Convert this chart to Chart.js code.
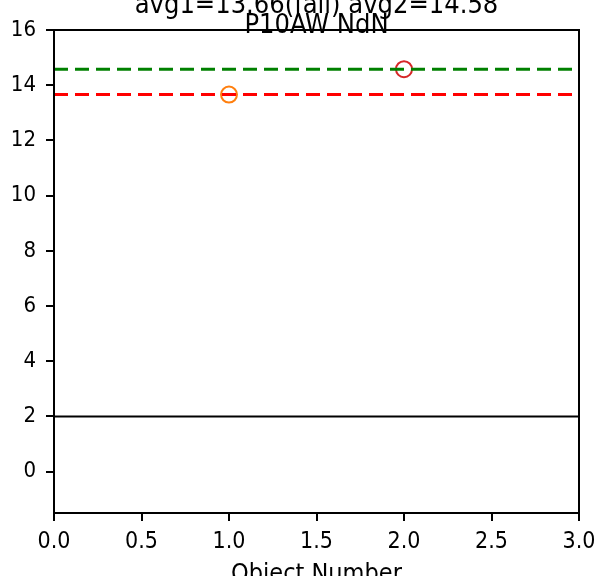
<!DOCTYPE html>
<html>
<head>
<meta charset="utf-8">
<script src="https://cdn.jsdelivr.net/npm/chart.js@4"></script>
<style>
  html, body { margin: 0; padding: 0; background: #fff; }
  #wrap { width: 613px; height: 576px; }
</style>
</head>
<body>
<div id="wrap"><canvas id="chart" width="613" height="576"></canvas></div>
<script>
// --- dados do gráfico ---
const objectNumbers = [1, 2];
const objectValues = [13.66, 14.58];
const pointColors = ['#ff7f0e', '#d62728'];
const avg1 = 13.66;
const avg2 = 14.58;
const limitLine = 2;
const xTicks = [0, 0.5, 1, 1.5, 2, 2.5, 3];
const yTicks = [0, 2, 4, 6, 8, 10, 12, 14, 16];
const titleTop = 'avg1=13.66(fail) avg2=14.58';
const titleMain = 'P10AW NdN';
const xLabel = 'Object Number';

const FONT = '"DejaVu Sans Condensed", "DejaVu Sans", sans-serif';

// textos e moldura desenhados à mão (títulos sobrepostos como no original)
const textPlugin = {
    id: 'textPlugin',
    afterDraw(chart) {
        const { ctx, chartArea } = chart;
        ctx.save();
        ctx.strokeStyle = '#000';
        ctx.lineWidth = 2;
        ctx.strokeRect(chartArea.left, chartArea.top, chartArea.right - chartArea.left, chartArea.bottom - chartArea.top);
        ctx.fillStyle = '#000';
        ctx.textAlign = 'center';
        ctx.textBaseline = 'alphabetic';
        const cx = (chartArea.left + chartArea.right) / 2;
        ctx.font = '27px ' + FONT;
        ctx.fillText(titleTop, cx, 13);
        ctx.fillText(titleMain, cx, 33);
        ctx.font = '25px ' + FONT;
        ctx.fillText(xLabel, cx, 581);
        ctx.restore();
    }
};

const hLine = (y, color, dash, width) => ({
    type: 'line',
    data: [{ x: 0, y: y }, { x: 3, y: y }],
    borderColor: color,
    borderWidth: width,
    borderDash: dash,
    pointRadius: 0,
    fill: false
});

new Chart(document.getElementById('chart'), {
    type: 'scatter',
    data: {
        datasets: [
            hLine(limitLine, '#000000', [], 2),
            hLine(avg1, '#ff0000', [14, 7], 3),
            hLine(avg2, '#008000', [14, 7], 3),
            {
                type: 'scatter',
                data: objectNumbers.map((x, i) => ({ x: x, y: objectValues[i] })),
                pointRadius: 8,
                pointBorderWidth: 2,
                pointBackgroundColor: 'rgba(0,0,0,0)',
                pointBorderColor: pointColors,
                pointHoverRadius: 8
            }
        ]
    },
    options: {
        responsive: false,
        animation: false,
        layout: { padding: { left: 0, top: 30, right: 34, bottom: 0 } },
        plugins: { legend: { display: false }, tooltip: { enabled: false } },
        scales: {
            x: {
                type: 'linear',
                min: 0,
                max: 3,
                afterBuildTicks: s => { s.ticks = xTicks.map(v => ({ value: v })); },
                afterFit: s => { s.height = 63; },
                grid: { drawOnChartArea: false, drawTicks: true, tickLength: 8, color: '#000', lineWidth: 2 },
                border: { display: true, color: '#000', width: 2 },
                ticks: {
                    color: '#000',
                    font: { family: FONT, size: 23 },
                    padding: 7,
                    maxRotation: 0,
                    callback: v => v.toFixed(1)
                }
            },
            y: {
                type: 'linear',
                min: -1.5,
                max: 16,
                afterBuildTicks: s => { s.ticks = yTicks.map(v => ({ value: v })); },
                afterFit: s => { s.width = 54; },
                grid: { drawOnChartArea: false, drawTicks: true, tickLength: 8, color: '#000', lineWidth: 2 },
                border: { display: true, color: '#000', width: 2 },
                ticks: {
                    color: '#000',
                    font: { family: FONT, size: 22 },
                    padding: 10,
                    callback: v => String(v)
                }
            }
        }
    },
    plugins: [textPlugin]
});
</script>
</body>
</html>
